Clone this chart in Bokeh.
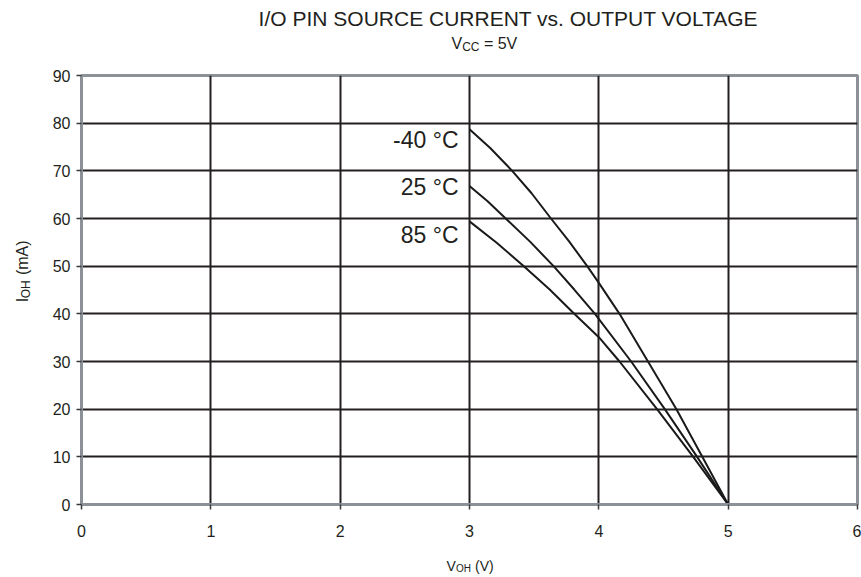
import math
from bokeh.plotting import figure
from bokeh.models import Label, FixedTicker, Range1d
from bokeh.layouts import column, row
from bokeh.embed import file_html
from bokeh.resources import INLINE

# ---- data ----
x_ticks = [0, 1, 2, 3, 4, 5, 6]
y_ticks = [0, 10, 20, 30, 40, 50, 60, 70, 80, 90]

v_m40 = [3.00, 3.16, 3.33, 3.48, 3.63, 3.77, 3.91, 4.00, 4.16, 4.38, 4.60, 4.80, 5.00]
i_m40 = [78.7, 74.8, 70, 65.3, 60, 55.2, 50, 46.5, 40, 30, 20, 10, 0]

v_25 = [3.00, 3.14, 3.28, 3.47, 3.65, 3.81, 3.97, 4.25, 4.51, 4.76, 5.00]
i_25 = [66.8, 63.6, 60, 55.1, 50, 45.1, 40, 30, 20, 10, 0]

v_85 = [3.00, 3.21, 3.42, 3.62, 3.81, 4.00, 4.16, 4.45, 4.73, 5.00]
i_85 = [59.4, 54.9, 50, 45.1, 40, 35.1, 30, 20, 10, 0]

curve_names = ["-40 °C", "25 °C", "85 °C"]
label_y = [76.4, 66.6, 56.5]

title_text = "I/O PIN SOURCE CURRENT vs. OUTPUT VOLTAGE"

FONT = "Liberation Sans"
TXT = "#231f20"
GRID = "#231f20"
FRAME = "#8b9196"


def blank(w, h, top, bottom):
    f = figure(width=w, height=h, x_range=Range1d(0, w), y_range=Range1d(bottom, top),
               x_axis_type=None, y_axis_type=None, output_backend="svg",
               toolbar_location=None, title=None, min_border=0)
    f.outline_line_color = None
    f.background_fill_color = "white"
    f.border_fill_color = "white"
    return f


def lab(fig, px, py, text, size, align="left", angle=0.0):
    fig.add_layout(Label(x=px, y=py, text=text, text_align=align,
                         text_baseline="alphabetic", text_font=FONT,
                         text_font_size=size, text_color=TXT, angle=angle))


# ---- main chart ----
p = figure(width=821, height=490, x_range=Range1d(0, 6), y_range=Range1d(0, 90),
           output_backend="svg", toolbar_location=None, title=None,
           min_border_left=41, min_border_right=4, min_border_top=13, min_border_bottom=48)
p.background_fill_color = "white"
p.border_fill_color = "white"
p.outline_line_color = FRAME
p.outline_line_width = 3

for ax, ticks in ((p.xaxis[0], x_ticks), (p.yaxis[0], y_ticks)):
    ax.ticker = FixedTicker(ticks=ticks)
    ax.minor_tick_line_color = None
    ax.major_tick_in = 0
    ax.major_tick_out = 5
    ax.major_tick_line_color = "#3a3a3a"
    ax.major_tick_line_width = 1.5
    ax.axis_line_color = FRAME
    ax.axis_line_width = 3
    ax.major_label_text_font = FONT
    ax.major_label_text_font_size = "16px"
    ax.major_label_text_color = TXT
p.xaxis.major_label_standoff = 15
p.yaxis.major_label_standoff = 6

p.xgrid.ticker = FixedTicker(ticks=x_ticks[1:-1])
p.ygrid.ticker = FixedTicker(ticks=y_ticks[1:-1])
p.grid.grid_line_color = GRID
p.grid.grid_line_width = 2
p.grid.grid_line_alpha = 1

for v, i in ((v_m40, i_m40), (v_25, i_25), (v_85, i_85)):
    p.line(v, i, line_color="#1a1a1a", line_width=2)

for name, yy in zip(curve_names, label_y):
    p.add_layout(Label(x=3, y=yy, x_offset=-11, text=name, text_align="right",
                       text_baseline="middle", text_font=FONT, text_font_size="23px",
                       text_color=TXT))

# ---- title strip (page y 0..62) ----
t = blank(861, 62, 0, 62)
lab(t, 508, 18, title_text, "21px", align="center")
lab(t, 451, 43, "V", "16px")
lab(t, 461.7, 46, "CC", "12px")
lab(t, 483.4, 43, "= 5V", "16px")

# ---- y label strip (page x 0..40, y 62..552) ----
yl = blank(40, 490, 62, 552)
a = math.pi / 2
lab(yl, 22, 321, "I", "16px", angle=a)
lab(yl, 25, 316.5, "OH", "12px", angle=a)
lab(yl, 22, 290.0, "(mA)", "16px", angle=a)

# ---- x label strip (page y 552..577) ----
xl = blank(861, 25, 552, 577)
lab(xl, 446, 565, "V", "14px")
lab(xl, 455.5, 568, "OH", "10px")
lab(xl, 474.5, 565, "(V)", "14px")

layout = column(t, row(yl, p, spacing=0), xl, spacing=0)

open("out.html", "w").write(file_html(layout, INLINE))
